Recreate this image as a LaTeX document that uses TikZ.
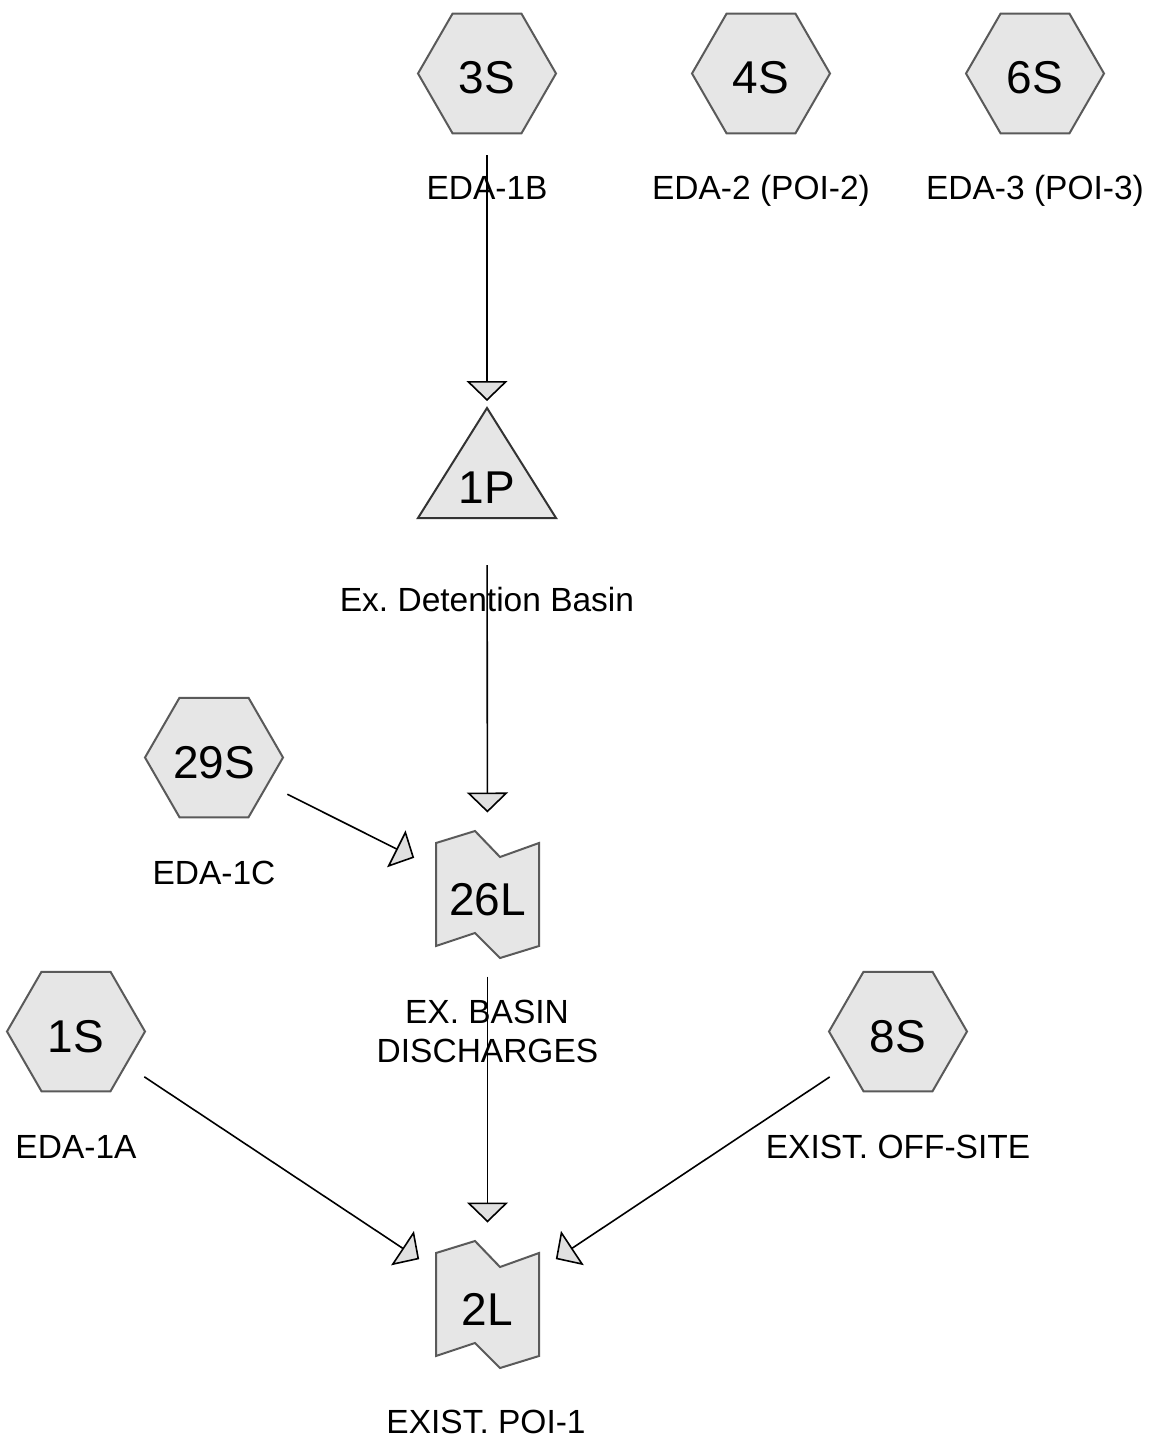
\documentclass[tikz,border=0pt]{standalone}
\usepackage{fontspec}
\setmainfont{Liberation Sans}
\usetikzlibrary{arrows.meta,shapes.geometric}
\definecolor{shapefill}{HTML}{E6E6E6}
\definecolor{shapeline}{HTML}{5A5A5A}
\definecolor{pondline}{HTML}{333333}
\definecolor{tipfill}{HTML}{E0E0E0}
\begin{document}
\frenchspacing
\begin{tikzpicture}[x=1pt,y=-1pt,
  bigtext/.style={font=\fontsize{46}{52}\selectfont, text height=41pt, text depth=0pt, inner sep=0pt},
  hexnode/.style={bigtext, regular polygon, regular polygon sides=6, minimum size=138pt,
    draw=shapeline, fill=shapefill, line width=2pt},
  plainnode/.style={bigtext},
  lbl/.style={font=\fontsize{33.5}{39}\selectfont, anchor=base, inner sep=0pt},
  linkshape/.style={draw=shapeline, fill=shapefill, line width=2pt, line join=miter},
  pondshape/.style={draw=pondline, fill=shapefill, line width=2pt, line join=miter},
  linkpic/.pic={\path[linkshape] (-51.5,-51.5) -- (-12.5,-63.5) -- (12.5,-37.5) -- (51.5,-51.5)
      -- (51.5,51.5) -- (12.5,63.5) -- (-12.5,38.5) -- (-51.5,51.5) -- cycle;},
  pondpic/.pic={\path[pondshape] (0,-75) -- (69,35) -- (-69,35) -- cycle;},
  flow/.style={line width=1.6pt, shorten <=82pt, shorten >=82pt,
    -{Triangle[length=20pt,width=41pt,fill=tipfill]}}
]
\useasboundingbox (0,0) rectangle (1151,1447);

% subcatchments
\node[hexnode] (s3) at (487,73.5) {3S};
\node[hexnode] (s4) at (761,73.5) {4S};
\node[hexnode] (s6) at (1035,73.5) {6S};
\node[hexnode] (s29) at (214,757.5) {29S};
\node[hexnode] (s1) at (76,1031.5) {1S};
\node[hexnode] (s8) at (898,1031.5) {8S};

% pond
\pic at (487,483) {pondpic};
\node[plainnode] (p1) at (487,483) {1P};

% links
\pic at (487.5,894.5) {linkpic};
\node[plainnode] (l26) at (487.5,894.5) {26L};
\pic at (487.5,1304.5) {linkpic};
\node[plainnode] (l2) at (487.5,1304.5) {2L};

% labels
\node[lbl] (t3) at (487,200) {EDA-1B};
\node[lbl] (t4) at (761,200) {EDA-2 (POI-2)};
\node[lbl] (t6) at (1035,200) {EDA-3 (POI-3)};
\node[lbl] (tp1) at (487,611) {Ex. Detention Basin};
\node[lbl] (t29) at (214,884) {EDA-1C};
\node[lbl] (t26a) at (487,1023) {EX. BASIN};
\node[lbl] (t26b) at (487.5,1062) {DISCHARGES};
\node[lbl] (t1) at (76,1158) {EDA-1A};
\node[lbl] (t8) at (898,1158) {EXIST. OFF-SITE};
\node[lbl] (t2) at (486,1433) {EXIST. POI-1};

% connectors
\draw[flow] (s3.center) -- (p1.center);
\draw[flow] (p1.center) -- (l26.center);
\draw[flow] (s29.center) -- (l26.center);
\draw[flow] (l26.center) -- (l2.center);
\draw[flow] (s1.center) -- (l2.center);
\draw[flow] (s8.center) -- (l2.center);
\end{tikzpicture}
\end{document}
